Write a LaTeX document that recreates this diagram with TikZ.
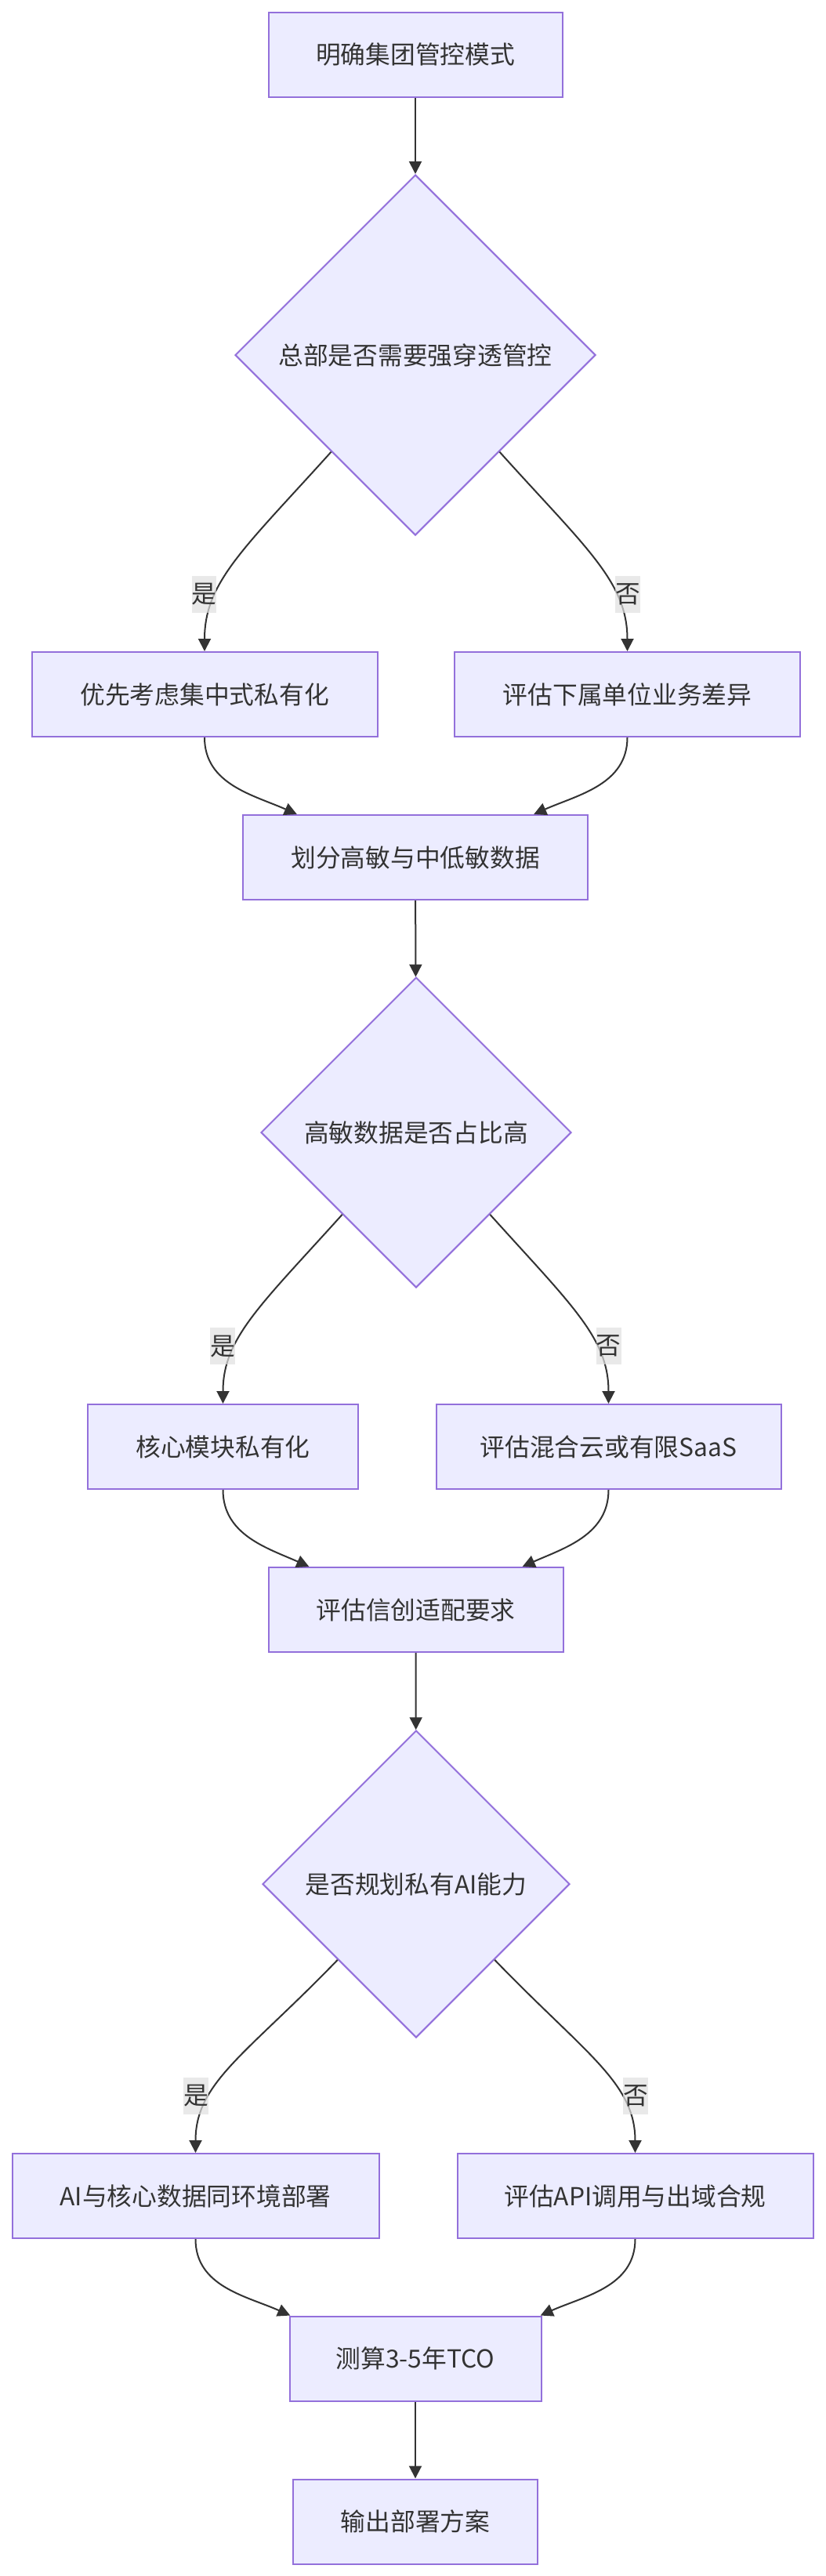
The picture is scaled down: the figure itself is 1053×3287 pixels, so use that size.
\documentclass[tikz,border=0pt]{standalone}
\usepackage{fontspec}
\setmainfont{Noto Sans CJK SC}
\usetikzlibrary{shapes.geometric,arrows.meta}
\definecolor{cajafondo}{HTML}{ECECFF}
\definecolor{cajaborde}{HTML}{9370DB}
\definecolor{linea}{HTML}{333333}
\begin{document}
\begin{tikzpicture}[x=1pt,y=1pt,every node/.style={font=\fontsize{31.75}{38}\selectfont,text=linea,align=center},paso/.style={draw=cajaborde,fill=cajafondo,line width=2pt,minimum height=108pt,inner sep=0pt},rombo/.style={diamond,aspect=1,draw=cajaborde,fill=cajafondo,line width=2pt,inner sep=0pt},flecha/.style={draw=linea,line width=2pt,-{Triangle[length=16pt,width=16pt]}},rama/.style={out looseness=1.4,in looseness=0.75},etiq/.style={fill=black!12,fill opacity=0.7,text opacity=1,inner sep=0pt,minimum width=31pt,minimum height=47pt}]
\useasboundingbox (0,0) rectangle (1053,-3287);
\node[paso,minimum width=375pt] (a) at (530,-69.5) {明确集团管控模式};
\node[rombo,minimum size=460pt] (b) at (530,-453) {总部是否需要强穿透管控};
\node[paso,minimum width=441pt] (c) at (261,-886) {优先考虑集中式私有化};
\node[paso,minimum width=441pt] (d) at (800.5,-886) {评估下属单位业务差异};
\node[paso,minimum width=440pt] (e) at (530,-1094) {划分高敏与中低敏数据};
\node[rombo,minimum size=396pt] (f) at (531,-1445) {高敏数据是否占比高};
\node[paso,minimum width=345pt] (g) at (284.5,-1846) {核心模块私有化};
\node[paso,minimum width=440pt] (h) at (776.5,-1846) {评估混合云或有限SaaS};
\node[paso,minimum width=376pt] (i) at (530.5,-2054) {评估信创适配要求};
\node[rombo,minimum size=392pt] (j) at (531,-2404) {是否规划私有AI能力};
\node[paso,minimum width=468pt] (k) at (249.5,-2802) {AI与核心数据同环境部署};
\node[paso,minimum width=454pt] (l) at (810.5,-2802) {评估API调用与出域合规};
\node[paso,minimum width=321pt] (m) at (530,-3009.5) {测算3-5年TCO};
\node[paso,minimum width=312pt] (n) at (530,-3217.5) {输出部署方案};
\draw[flecha] (a)--(b);
\draw[flecha] (b.-131) to[rama,out=-132,in=90] (c.north);
\draw[flecha] (b.-49) to[rama,out=-48,in=90] (d.north);
\draw[flecha] (c.south) to[out=-90,in=156] (e.160);
\draw[flecha] (d.south) to[out=-90,in=24] (e.20);
\draw[flecha] (e)--(f);
\draw[flecha] (f.-132) to[rama,out=-132,in=90] (g.north);
\draw[flecha] (f.-48) to[rama,out=-48,in=90] (h.north);
\draw[flecha] (g.south) to[out=-90,in=156] (i.158);
\draw[flecha] (h.south) to[out=-90,in=24] (i.22);
\draw[flecha] (i)--(j);
\draw[flecha] (j.-136) to[rama,out=-134,in=90] (k.north);
\draw[flecha] (j.-44) to[rama,out=-46,in=90] (l.north);
\draw[flecha] (k.south) to[out=-90,in=156] (m.161);
\draw[flecha] (l.south) to[out=-90,in=24] (m.19);
\draw[flecha] (m)--(n);
\node[etiq] (s1) at (260.6,-758) {是};
\node[etiq] (n1) at (801,-758) {否};
\node[etiq] (s2) at (284,-1717.7) {是};
\node[etiq] (n2) at (776.7,-1717.7) {否};
\node[etiq] (s3) at (250,-2674) {是};
\node[etiq] (n3) at (811,-2674) {否};
\end{tikzpicture}
\end{document}
